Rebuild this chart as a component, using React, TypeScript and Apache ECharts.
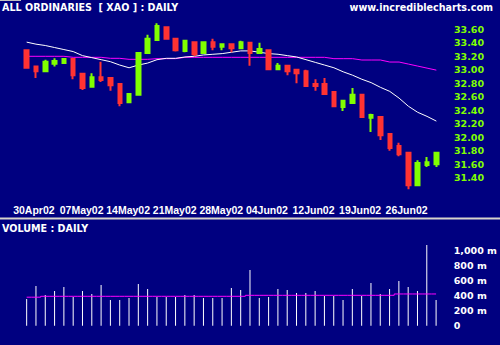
import React, { useEffect, useRef } from "react";
import * as echarts from "echarts";

const dates = [
  "30Apr02", "01May02", "02May02", "03May02", "06May02", "07May02", "08May02", "09May02", "10May02",
  "13May02", "14May02", "15May02", "16May02", "17May02", "20May02", "21May02", "22May02", "23May02",
  "24May02", "27May02", "28May02", "29May02", "30May02", "31May02", "03Jun02", "04Jun02", "05Jun02",
  "06Jun02", "07Jun02", "11Jun02", "12Jun02", "13Jun02", "14Jun02", "17Jun02", "18Jun02", "19Jun02",
  "20Jun02", "21Jun02", "24Jun02", "25Jun02", "26Jun02", "27Jun02", "28Jun02", "01Jul02", "02Jul02",
];
const labelIdx = [0, 5, 10, 15, 20, 25, 30, 35, 40];

const opens = [33.29, 33.05, 32.98, 33.09, 33.10, 33.16, 32.94, 32.75, 32.89, 32.88, 32.79, 32.52, 32.63, 33.25, 33.44, 33.63, 33.46, 33.28, 33.41, 33.25, 33.41, 33.34, 33.38, 33.32, 33.40, 33.25, 33.29, 33.01, 33.06, 33.00, 32.98, 32.79, 32.79, 32.67, 32.45, 32.51, 32.63, 32.29, 32.30, 32.05, 31.87, 31.77, 31.29, 31.59, 31.60];
const closes = [33.03, 32.98, 33.12, 33.13, 33.16, 32.92, 32.73, 32.89, 32.85, 32.77, 32.51, 32.64, 33.25, 33.46, 33.65, 33.46, 33.29, 33.43, 33.23, 33.41, 33.34, 33.38, 33.32, 33.41, 33.25, 33.31, 33.01, 33.06, 32.98, 32.95, 32.76, 32.76, 32.64, 32.46, 32.54, 32.63, 32.30, 32.33, 32.03, 31.84, 31.75, 31.29, 31.62, 31.63, 31.77];
const lows = [33.03, 32.88, 32.98, 33.05, 33.09, 32.86, 32.70, 32.75, 32.82, 32.69, 32.46, 32.52, 32.63, 33.25, 33.44, 33.46, 33.27, 33.26, 33.20, 33.25, 33.29, 33.29, 33.26, 33.31, 33.06, 33.25, 33.01, 33.01, 32.92, 32.80, 32.75, 32.69, 32.63, 32.46, 32.39, 32.51, 32.30, 32.08, 31.96, 31.80, 31.72, 31.23, 31.29, 31.56, 31.56];
const highs = [33.29, 33.05, 33.15, 33.17, 33.17, 33.16, 32.94, 32.95, 33.12, 32.88, 32.79, 32.65, 33.25, 33.52, 33.69, 33.63, 33.46, 33.44, 33.41, 33.41, 33.46, 33.38, 33.38, 33.43, 33.40, 33.40, 33.29, 33.10, 33.07, 33.00, 33.00, 32.86, 32.88, 32.67, 32.54, 32.73, 32.63, 32.35, 32.30, 32.05, 31.92, 31.77, 31.66, 31.71, 31.77];

const maShort = [33.41, 33.38, 33.36, 33.33, 33.30, 33.27, 33.21, 33.18, 33.15, 33.12, 33.07, 33.03, 33.07, 33.10, 33.15, 33.17, 33.17, 33.19, 33.20, 33.22, 33.23, 33.24, 33.26, 33.28, 33.28, 33.26, 33.24, 33.23, 33.21, 33.19, 33.15, 33.11, 33.07, 33.03, 32.97, 32.92, 32.86, 32.81, 32.74, 32.68, 32.58, 32.46, 32.37, 32.31, 32.24];
const maLong = [33.20, 33.20, 33.20, 33.20, 33.20, 33.185, 33.185, 33.185, 33.185, 33.17, 33.17, 33.155, 33.155, 33.155, 33.165, 33.165, 33.165, 33.185, 33.185, 33.185, 33.185, 33.185, 33.185, 33.185, 33.185, 33.185, 33.185, 33.185, 33.185, 33.185, 33.185, 33.185, 33.185, 33.165, 33.165, 33.165, 33.145, 33.145, 33.145, 33.115, 33.115, 33.085, 33.055, 33.025, 32.995];

const volumes = [356, 529, 409, 463, 516, 383, 463, 423, 543, 343, 343, 369, 556, 489, 383, 383, 383, 409, 409, 369, 369, 369, 503, 476, 743, 369, 383, 489, 476, 436, 436, 463, 396, 396, 343, 489, 396, 569, 423, 489, 596, 516, 463, 1076, 343];
const volumeMa = [380, 380, 392, 392, 392, 392, 392, 392, 392, 392, 392, 392, 392, 392, 392, 392, 392, 392, 392, 392, 392, 392, 392, 392, 405, 405, 405, 405, 405, 405, 405, 405, 405, 405, 405, 405, 405, 405, 405, 405, 423, 423, 423, 423, 423];
const volumeTickLabels = ["0", "200 m", "400 m", "600 m", "800 m", "1,000 m"];

const BG = "#000080";
const GREEN = "#80ff00";
const RED = "#ff3333";

export default function App() {
  const ref = useRef<HTMLDivElement>(null);
  useEffect(() => {
    if (!ref.current) return;
    const chart = echarts.init(ref.current, null, { renderer: "svg" });
    const candles = opens.map((o, i) => [o, closes[i], lows[i], highs[i]]);
    const gridLeft = 22;
    const gridWidth = 419;
    chart.setOption({
      animation: false,
      backgroundColor: BG,
      grid: [
        { left: gridLeft, width: gridWidth, top: 15.8, height: 175.5 },
        { left: gridLeft, width: gridWidth, top: 235.7, height: 90 },
      ],
      xAxis: [
        {
          type: "category",
          gridIndex: 0,
          data: dates,
          boundaryGap: true,
          axisLine: { show: false },
          axisTick: { show: false },
          splitLine: { show: false },
          axisLabel: {
            interval: (idx: number) => labelIdx.includes(idx),
            color: "#ffffff",
            fontFamily: "Liberation Sans",
            fontWeight: "bold",
            fontSize: 10.5,
            align: "left",
            padding: [0, 0, 0, -13.5],
            margin: 13,
          },
        },
        {
          type: "category",
          gridIndex: 1,
          data: dates,
          boundaryGap: true,
          axisLine: { show: false },
          axisTick: { show: false },
          axisLabel: { show: false },
        },
      ],
      yAxis: [
        {
          type: "value",
          gridIndex: 0,
          position: "right",
          min: 31.2,
          max: 33.8,
          interval: 0.2,
          splitLine: { show: false },
          axisLine: { show: false },
          axisTick: { show: false },
          axisLabel: {
            showMinLabel: false,
            showMaxLabel: false,
            formatter: (v: number) => v.toFixed(2),
            color: GREEN,
            fontFamily: "DejaVu Sans",
            fontWeight: "bold",
            fontSize: 9.5,
            align: "left",
            margin: 13,
          },
        },
        {
          type: "value",
          gridIndex: 1,
          position: "right",
          min: 0,
          max: 1200,
          interval: 200,
          splitLine: { show: false },
          axisLine: { show: false },
          axisTick: { show: false },
          axisLabel: {
            showMaxLabel: false,
            formatter: (v: number) => volumeTickLabels[Math.round(v / 200)] ?? "",
            color: "#ffffff",
            fontFamily: "DejaVu Sans",
            fontWeight: "bold",
            fontSize: 9.5,
            align: "left",
            margin: 13,
          },
        },
      ],
      series: [
        {
          type: "line",
          xAxisIndex: 0,
          yAxisIndex: 0,
          data: maLong,
          showSymbol: false,
          lineStyle: { color: "#ff00ff", width: 1 },
          z: 2,
        },
        {
          type: "line",
          xAxisIndex: 0,
          yAxisIndex: 0,
          data: maShort,
          showSymbol: false,
          lineStyle: { color: "#ffffff", width: 1 },
          z: 2,
        },
        {
          type: "candlestick",
          xAxisIndex: 0,
          yAxisIndex: 0,
          data: candles,
          barWidth: 4,
          itemStyle: {
            color: GREEN,
            color0: RED,
            borderColor: GREEN,
            borderColor0: RED,
            borderWidth: 2,
          },
          z: 3,
        },
        {
          type: "bar",
          xAxisIndex: 1,
          yAxisIndex: 1,
          data: volumes,
          barWidth: 1,
          itemStyle: { color: "#ffffff" },
          z: 2,
        },
        {
          type: "line",
          xAxisIndex: 1,
          yAxisIndex: 1,
          data: volumeMa,
          showSymbol: false,
          step: "middle",
          lineStyle: { color: "#ff00ff", width: 1 },
          z: 3,
        },
      ],
      graphic: [
        { type: "rect", left: 0, top: 0, shape: { width: 21, height: 1 }, style: { fill: "#c0c0c0" } },
        {
          type: "text",
          left: 2,
          top: 2,
          style: {
            text: "ALL ORDINARIES  [ XAO ] : DAILY",
            fill: "#ffffff",
            font: "bold 9.6px 'DejaVu Sans'",
          },
        },
        {
          type: "text",
          right: 7,
          top: 2,
          style: {
            text: "www.incrediblecharts.com",
            fill: "#ffffff",
            font: "bold 9.6px 'DejaVu Sans'",
          },
        },
        { type: "rect", left: 0, top: 217.5, shape: { width: 500, height: 2 }, style: { fill: "#d8d4cc" } },
        {
          type: "text",
          left: 2,
          top: 223,
          style: {
            text: "VOLUME : DAILY",
            fill: "#ffffff",
            font: "bold 9.6px 'DejaVu Sans'",
          },
        },
      ],
    });
    return () => chart.dispose();
  }, []);
  return (
    <div
      ref={ref}
      style={{ position: "fixed", left: 0, top: 0, width: 500, height: 345 }}
    />
  );
}
